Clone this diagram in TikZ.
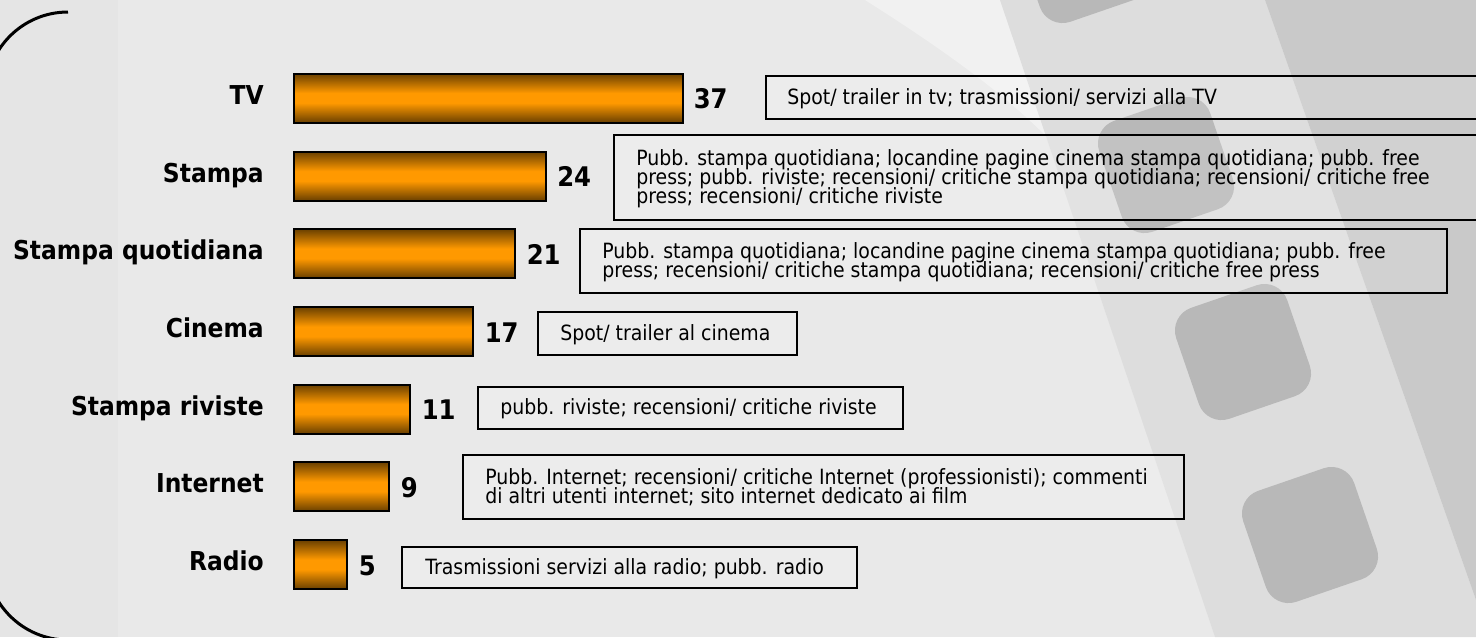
\documentclass[tikz,border=0pt]{standalone}
\usepackage{fontspec}
\setmainfont{DejaVu Sans}[FakeStretch=0.9]
\definecolor{bgbase}{HTML}{E9E9E9}
\definecolor{bgleft}{HTML}{E5E5E5}
\definecolor{bglight}{HTML}{F1F1F1}
\definecolor{stripgray}{HTML}{DDDDDD}
\definecolor{darkgray}{HTML}{C9C9C9}
\definecolor{holegray}{HTML}{B8B8B8}
\definecolor{barmid}{HTML}{FF9900}
\definecolor{baredge}{HTML}{6A4000}
\pgfdeclareverticalshading{barshade}{100bp}{color(0bp)=(baredge); color(25bp)=(baredge); color(45bp)=(barmid); color(55bp)=(barmid); color(75bp)=(baredge); color(100bp)=(baredge)}
\newcommand{\desclines}[1]{\vtop{\baselineskip=14.25pt\lineskiplimit=-100pt\halign{##\hfil\cr#1\crcr}}}
\begin{document}
\begin{tikzpicture}[x=0.75pt,y=-0.75pt,
  barbox/.style={draw=black, line width=1.5pt, shading=barshade, inner sep=0pt, minimum height=36.75pt, anchor=west},
  lab/.style={font=\fontsize{19.5pt}{23pt}\selectfont\bfseries, inner sep=0pt, anchor=base east},
  num/.style={font=\fontsize{20.25pt}{24pt}\selectfont\bfseries, inner sep=0pt, anchor=base west},
  dbox/.style={draw=black, line width=2pt, fill=white, fill opacity=0.15, inner sep=0pt},
  dtext/.style={font=\fontsize{15.75pt}{14.25pt}\selectfont, inner sep=0pt, anchor=base west, text=black},
  holesty/.style={fill=holegray, minimum size=88pt, rounded corners=18pt, inner sep=0pt}
]
\useasboundingbox (0,0) rectangle (1476,637);
\begin{scope}
\clip (0,0) rectangle (1476,637);
% background
\fill[bgbase] (0,0) rectangle (1476,637);
\fill[bgleft] (0,0) rectangle (118,637);
\fill[bglight] (865,0) -- (1000,0) -- (1050,140) .. controls (1010,100) and (960,60) .. cycle;
\fill[stripgray] (1000,0) -- (1265,0) -- (1476,600) -- (1476,637) -- (1215,637) -- cycle;
\fill[darkgray] (1265,0) -- (1476,0) -- (1476,600) -- cycle;
\node[holesty, rotate=19] (h0) at (1084,-45) {};
\node[holesty, rotate=19] (h1) at (1166,165) {};
\node[holesty, rotate=19] (h2) at (1243,352) {};
\node[holesty, rotate=19] (h3) at (1310,535) {};
% frame
\draw[line width=2.25pt, rounded corners=61.5pt] (68,12) -- (-14,12) -- (-14,640) -- (68,640);

% bars
\node[barbox, minimum width=291.375pt] (b1) at (293,98) {};
\node[barbox, minimum width=189pt]     (b2) at (293,176) {};
\node[barbox, minimum width=165.375pt] (b3) at (293,253.5) {};
\node[barbox, minimum width=133.875pt] (b4) at (293,331.5) {};
\node[barbox, minimum width=86.625pt]  (b5) at (293,409) {};
\node[barbox, minimum width=70.875pt]  (b6) at (293,486.5) {};
\node[barbox, minimum width=39.375pt]  (b7) at (293,564.5) {};

% labels
\node[lab] (l1) at (264,104) {TV};
\node[lab] (l2) at (264,182) {Stampa};
\node[lab] (l3) at (264,259.5) {Stampa quotidiana};
\node[lab] (l4) at (264,337.5) {Cinema};
\node[lab] (l5) at (264,415) {Stampa riviste};
\node[lab] (l6) at (264,492.5) {Internet};
\node[lab] (l7) at (264,570.5) {Radio};

% values
\node[num] (n1) at ([shift={(10,10.5)}]b1.east) {37};
\node[num] (n2) at ([shift={(10,10.5)}]b2.east) {24};
\node[num] (n3) at ([shift={(11,10.5)}]b3.east) {21};
\node[num] (n4) at ([shift={(11,10.5)}]b4.east) {17};
\node[num] (n5) at ([shift={(11,10.5)}]b5.east) {11};
\node[num] (n6) at ([shift={(11,10.5)}]b6.east) {9};
\node[num] (n7) at ([shift={(11,10.5)}]b7.east) {5};

% description boxes
\node[dbox, minimum width=550.5pt,  minimum height=32.25pt] (d1) at (1133,97.5) {};
\node[dbox, minimum width=664.5pt,  minimum height=63.75pt] (d2) at (1057,177.5) {};
\node[dbox, minimum width=650.25pt, minimum height=48pt]    (d3) at (1013.5,261) {};
\node[dbox, minimum width=194.25pt, minimum height=32.25pt] (d4) at (667.5,333.5) {};
\node[dbox, minimum width=318.75pt, minimum height=31.5pt]  (d5) at (690.5,408) {};
\node[dbox, minimum width=540.75pt, minimum height=48pt]    (d6) at (823.5,487) {};
\node[dbox, minimum width=341.25pt, minimum height=30.75pt] (d7) at (629.5,567.5) {};

\node[dtext] (t1) at (787,104) {\desclines{Spot/ trailer in tv; trasmissioni/ servizi alla TV}};
\node[dtext] (t2) at (636,165) {\desclines{Pubb. stampa quotidiana; locandine pagine cinema stampa quotidiana; pubb. free\cr press; pubb. riviste; recensioni/ critiche stampa quotidiana; recensioni/ critiche free\cr press; recensioni/ critiche riviste}};
\node[dtext] (t3) at (602,258) {\desclines{Pubb. stampa quotidiana; locandine pagine cinema stampa quotidiana; pubb. free\cr press; recensioni/ critiche stampa quotidiana; recensioni/ critiche free press}};
\node[dtext] (t4) at (560,340) {\desclines{Spot/ trailer al cinema}};
\node[dtext] (t5) at (500,414.5) {\desclines{pubb. riviste; recensioni/ critiche riviste}};
\node[dtext] (t6) at (485,484) {\desclines{Pubb. Internet; recensioni/ critiche Internet (professionisti); commenti\cr di altri utenti internet; sito internet dedicato ai film}};
\node[dtext] (t7) at (425,574) {\desclines{Trasmissioni servizi alla radio; pubb. radio}};
\end{scope}
\end{tikzpicture}
\end{document}
